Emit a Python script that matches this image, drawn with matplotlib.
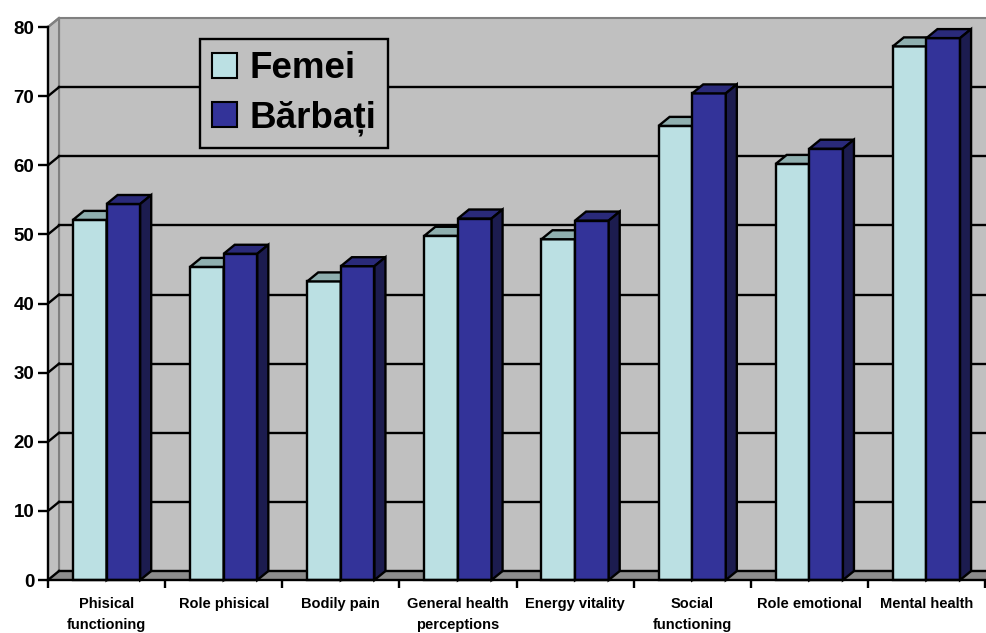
import numpy as np
import matplotlib
matplotlib.use('Agg')
import matplotlib.pyplot as plt
from matplotlib.patches import Polygon, Patch

plt.rcParams['font.family'] = ['Liberation Sans', 'DejaVu Sans']
plt.rcParams['font.weight'] = 'bold'

# data
categories = ['Phisical\nfunctioning', 'Role phisical', 'Bodily pain',
              'General health\nperceptions', 'Energy vitality',
              'Social\nfunctioning', 'Role emotional', 'Mental health']
femei = [52.1, 45.3, 43.2, 49.8, 49.3, 65.7, 60.2, 77.2]
barbati = [54.4, 47.2, 45.4, 52.3, 52.0, 70.4, 62.4, 78.4]
y_ticks = [0, 10, 20, 30, 40, 50, 60, 70, 80]
series_names = ['Femei', 'Bărbați']

# colours (front, top, side)
light = ('#BBE0E3', '#8FAFAF', '#7F9FA0')
dark = ('#333399', '#2A2A7A', '#1C1C4F')
wall = '#C0C0C0'
floor = '#8C8C8C'
edge_gray = '#808080'

# fake 3D depth in data units
dx, dy = 0.094, 1.3
width = 0.287
lw = 1.7

fig = plt.figure(figsize=(9.86, 6.33), dpi=100)
ax = fig.add_axes([0.0487, 0.0837, 0.9503, 0.8736])
x = np.arange(len(categories))
xl, xr = -0.5, len(categories) - 0.5
ymax = y_ticks[-1]
ax.set_xlim(xl, xr)
ax.set_ylim(0, ymax)

# walls and floor
ax.add_patch(Polygon([(xl + dx, dy), (xr + dx, dy), (xr + dx, ymax + dy), (xl + dx, ymax + dy)],
                     closed=True, facecolor=wall, edgecolor=edge_gray, lw=1.5, zorder=0.5, clip_on=False))
ax.add_patch(Polygon([(xl, 0), (xl + dx, dy), (xl + dx, ymax + dy), (xl, ymax)],
                     closed=True, facecolor=wall, edgecolor=edge_gray, lw=1.5, zorder=0.6, clip_on=False))
ax.add_patch(Polygon([(xl, 0), (xl + dx, dy), (xr + dx, dy), (xr, 0)],
                     closed=True, facecolor=floor, edgecolor='none', zorder=0.6, clip_on=False))

# gridlines on the back wall + the slanted depth lines
for v in y_ticks[:-1]:
    ax.plot([xl + dx, xr + dx], [v + dy, v + dy], color='black', lw=lw, zorder=1, clip_on=False)
    ax.plot([xl, xl + dx], [v, v + dy], color='black', lw=lw, zorder=1, clip_on=False)
ax.plot([xl, xl + dx], [ymax, ymax + dy], color=edge_gray, lw=lw, zorder=1, clip_on=False)


def bars3d(xpos, vals, cols, z):
    ax.bar(xpos, vals, width, align='edge', color=cols[0], edgecolor='black', lw=lw, zorder=z, clip_on=False)
    for xi, h in zip(xpos, vals):
        x0, x1 = xi, xi + width
        ax.add_patch(Polygon([(x0, h), (x0 + dx, h + dy), (x1 + dx, h + dy), (x1, h)], closed=True,
                             facecolor=cols[1], edgecolor='black', lw=lw, zorder=z, clip_on=False))
        ax.add_patch(Polygon([(x1, 0), (x1 + dx, dy), (x1 + dx, h + dy), (x1, h)], closed=True,
                             facecolor=cols[2], edgecolor='black', lw=lw, zorder=z, clip_on=False))


bars3d(x - width, femei, light, 2)
bars3d(x, barbati, dark, 3)

# axes
for s in ['top', 'right']:
    ax.spines[s].set_visible(False)
for s in ['left', 'bottom']:
    ax.spines[s].set_linewidth(lw)
    ax.spines[s].set_zorder(5)
ax.set_yticks(y_ticks)
ax.tick_params(axis='y', length=7, width=lw, pad=3, labelsize=13.5)
ax.set_xticks(np.arange(xl, xr + 0.01, 1.0))
ax.set_xticklabels([])
ax.tick_params(axis='x', which='major', length=6, width=lw)
ax.set_xticks(x, minor=True)
ax.set_xticklabels(categories, minor=True, fontsize=10.5, linespacing=1.62)
ax.tick_params(axis='x', which='minor', length=0, pad=12)

handles = [Patch(facecolor=light[0], edgecolor='black', lw=1.5),
           Patch(facecolor=dark[0], edgecolor='black', lw=1.5)]
leg = ax.legend(handles, series_names, loc='upper left', bbox_to_anchor=(0.162, 0.978),
                fontsize=26.5, frameon=True, fancybox=False, facecolor=wall, edgecolor='black',
                framealpha=1, handlelength=0.68, handleheight=0.68, handletextpad=0.33,
                labelspacing=0.38, borderpad=0.33, borderaxespad=0)
leg.get_frame().set_linewidth(1.7)
leg.set_zorder(6)

fig.savefig('out.png', dpi=100)
